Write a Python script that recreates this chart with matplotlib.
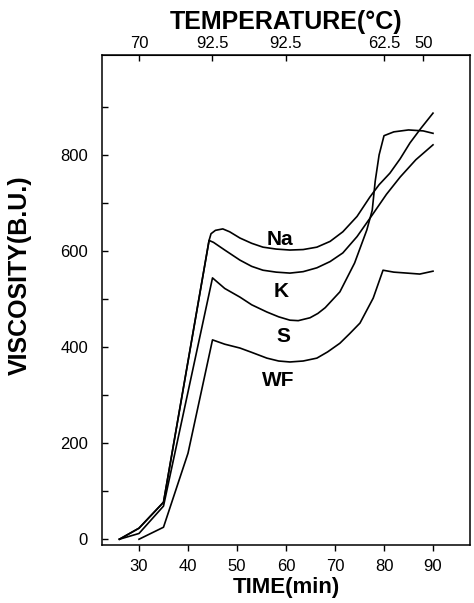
import matplotlib
matplotlib.use("Agg")
import matplotlib.pyplot as plt

plt.rcParams['font.family'] = ['Liberation Sans', 'DejaVu Sans']

# time (min) / viscosity (B.U.)
na_time = [26, 30, 35, 44.3, 44.7, 45.6, 47.1, 48.5, 50.6, 53, 55.3, 58, 60.8, 63.5,
           66.3, 69, 71.6, 74.5, 77.1, 79, 81.2, 83.3, 85.3, 87.5, 90]
na_visc = [0, 23, 77, 622, 636, 643, 646, 640, 627, 616, 608, 604, 602, 603,
           608, 620, 640, 672, 712, 738, 762, 792, 825, 855, 887]

k_time = [26, 30, 35, 44.3, 45.2, 47.5, 50.6, 53, 55.3, 58, 60.8, 63.5, 66.3, 69,
          71.6, 74.5, 77.6, 80.5, 83.3, 86.5, 90]
k_visc = [0, 23, 77, 622, 618, 602, 581, 568, 560, 556, 554, 557, 565, 578,
          596, 630, 675, 718, 754, 790, 821]

s_time = [26, 30, 35, 45, 47.5, 50.6, 53, 56.1, 58.5, 60.8, 62.5, 64.9, 66.5, 68,
          71, 74, 76.5, 77.6, 78.2, 79, 80, 82, 85, 88, 90]
s_visc = [0, 12, 69, 544, 522, 504, 488, 473, 463, 456, 455, 461, 470, 482,
          515, 575, 644, 685, 745, 800, 840, 848, 852, 850, 845]

wf_time = [30, 35, 40, 45, 47.5, 50.6, 53, 56.1, 58.5, 60.8, 63.5, 66.3, 68.5,
           71, 73, 75.1, 77.8, 79.8, 82, 84.7, 87.3, 90]
wf_visc = [0, 25, 179, 415, 406, 398, 389, 377, 371, 369, 371, 377, 390,
           408, 428, 450, 502, 560, 556, 554, 552, 558]

labels = ['Na', 'K', 'S', 'WF']
label_time = [58.8, 59.0, 59.4, 58.5]
label_visc = [623, 515, 421, 331]

temp_time = [30, 45, 60, 80, 88]
temp_labels = ['70', '92.5', '92.5', '62.5', '50']

fig = plt.figure(figsize=(4.74, 6.03), dpi=100)
ax = fig.add_axes([102 / 474, 1 - 545 / 603, 368 / 474, 490 / 603])

for t, v in [(na_time, na_visc), (k_time, k_visc), (s_time, s_visc), (wf_time, wf_visc)]:
    ax.plot(t, v, color='black', lw=1.2)

for name, t, v in zip(labels, label_time, label_visc):
    ax.text(t, v, name, ha='center', va='center', fontsize=15, fontweight='bold')

ax.set_xlim(22.45, 97.55)
ax.set_ylim(-12, 1008)
ax.set_xticks(range(30, 91, 10))
ax.set_yticks(range(0, 901, 100))
ax.set_yticklabels([str(v) if v % 200 == 0 else '' for v in range(0, 901, 100)])

for sp in ax.spines.values():
    sp.set_linewidth(1.1)

ax.tick_params(axis='x', direction='out', length=4, width=1, pad=6, labelsize=12)
ax.tick_params(axis='y', direction='in', length=4, width=1, pad=10, labelsize=12)

ax.set_xlabel('TIME(min)', fontsize=16, fontweight='bold', labelpad=2)
ax.set_ylabel('VISCOSITY(B.U.)', fontsize=18, fontweight='bold')
ax.yaxis.set_label_coords(-0.19, 0.55)

top = ax.secondary_xaxis('top')
top.set_xticks(temp_time)
top.set_xticklabels(temp_labels)
top.tick_params(direction='in', length=4, width=1, pad=3, labelsize=12)
top.set_xlabel('TEMPERATURE(°C)', fontsize=18, fontweight='bold', labelpad=5)

fig.savefig('out.png', dpi=100)
